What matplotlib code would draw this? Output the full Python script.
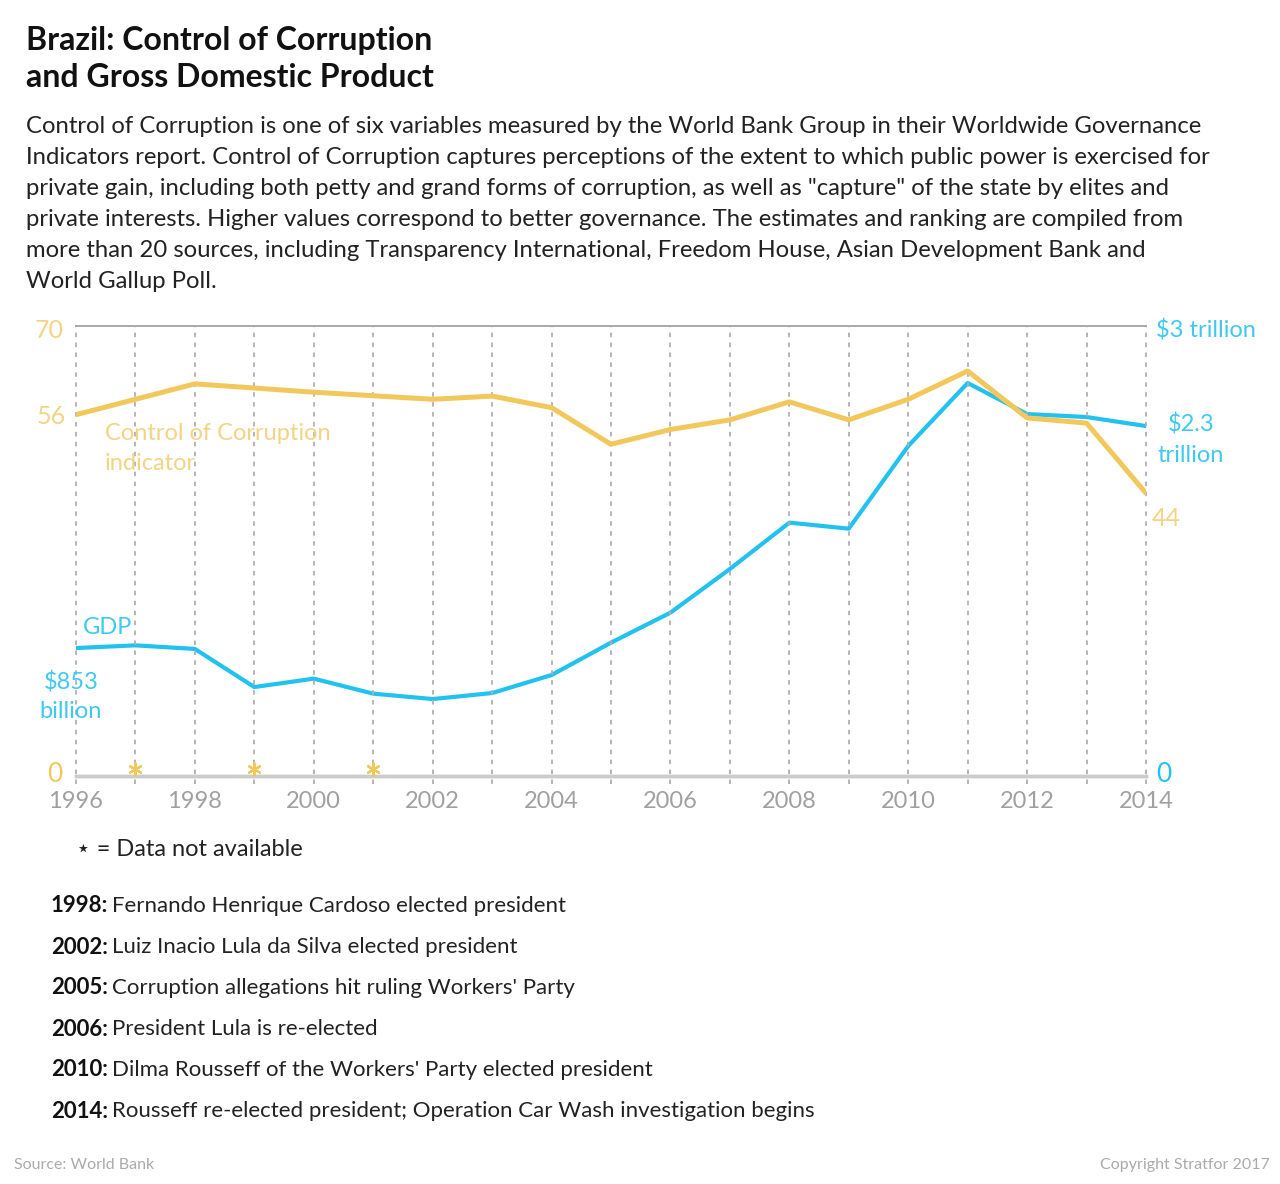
import matplotlib
matplotlib.use("Agg")
import matplotlib.pyplot as plt

# Data ===========================================
# Control of Corruption (percentile rank); 1997, 1999, 2001 not available
cc_years = [1996, 1998, 2000, 2002, 2003, 2004, 2005, 2006, 2007,
            2008, 2009, 2010, 2011, 2012, 2013, 2014]
cc_values = [56.2, 61.0, 59.7, 58.6, 59.1, 57.3, 51.6, 53.9, 55.4,
             58.2, 55.4, 58.6, 63.0, 55.7, 54.9, 44.0]
missing_years = [1997, 1999, 2001]

# GDP, trillions of US dollars
gdp_years = list(range(1996, 2015))
gdp_values = [0.853, 0.871, 0.847, 0.593, 0.649, 0.549, 0.513, 0.553, 0.673,
              0.889, 1.089, 1.380, 1.689, 1.649, 2.200, 2.620, 2.413, 2.393, 2.333]

year_ticks = list(range(1996, 2015, 2))

events = [
    ("1998:", "Fernando Henrique Cardoso elected president"),
    ("2002:", "Luiz Inacio Lula da Silva elected president"),
    ("2005:", "Corruption allegations hit ruling Workers' Party"),
    ("2006:", "President Lula is re-elected"),
    ("2010:", "Dilma Rousseff of the Workers' Party elected president"),
    ("2014:", "Rousseff re-elected president; Operation Car Wash investigation begins"),
]

intro = ("Control of Corruption is one of six variables measured by the World Bank Group in their Worldwide Governance\n"
         "Indicators report. Control of Corruption captures perceptions of the extent to which public power is exercised for\n"
         "private gain, including both petty and grand forms of corruption, as well as \"capture\" of the state by elites and\n"
         "private interests. Higher values correspond to better governance. The estimates and ranking are compiled from\n"
         "more than 20 sources, including Transparency International, Freedom House, Asian Development Bank and\n"
         "World Gallup Poll.")

# Styles =========================================
YELLOW = "#f2c85c"
YELLOW_TXT = "#f4d385"
CYAN = "#22c2ef"
CYAN_TXT = "#3fc9f1"
GRAY = "#a0a0a0"
W, H = 1280, 1184
plt.rcParams['font.family'] = ['Lato', 'DejaVu Sans']

fig = plt.figure(figsize=(W / 100, H / 100), dpi=100)


def px(x, y):
    return x / W, 1 - y / H


# Axes ===========================================
left, right, top, bottom = 76, 1146, 326, 776
ax = fig.add_axes([left / W, 1 - bottom / H, (right - left) / W, (bottom - top) / H])
ax2 = ax.twinx()

ax.set_xlim(1996, 2014)
ax.set_ylim(0, 70)
ax2.set_ylim(0, 3)

for yr in gdp_years:
    ax.axvline(yr, ymin=-0.018, ymax=1, color="#b0b0b0", lw=1.3,
               ls=(0, (2.5, 3)), clip_on=False, zorder=1)

for a in (ax, ax2):
    for s in ("left", "right"):
        a.spines[s].set_visible(False)
    a.spines["top"].set_color("#a8a8a8")
    a.spines["top"].set_linewidth(1.2)
    a.spines["bottom"].set_color("#cccccc")
    a.spines["bottom"].set_linewidth(2.5)
    a.set_yticks([])
    a.tick_params(length=0)

ax.set_xticks(year_ticks)
ax.set_xticklabels([str(y) for y in year_ticks], fontsize=17, color=GRAY)
ax.tick_params(axis="x", pad=11)

ax2.plot(gdp_years, gdp_values, color=CYAN, lw=3, zorder=3, solid_capstyle="round")
ax.plot(cc_years, cc_values, color=YELLOW, lw=3.6, zorder=4, solid_capstyle="round")
ax.set_zorder(ax2.get_zorder() + 1)
ax.patch.set_visible(False)

ax.scatter(missing_years, [0.016] * len(missing_years), marker=(6, 2, 0), s=80,
           color=YELLOW, linewidths=1.6, transform=ax.get_xaxis_transform(),
           clip_on=False, zorder=5)

# Axis annotations ===============================
fig.text(*px(64, 331), "70", color=YELLOW_TXT, fontsize=18,
         ha="right", va="center")
fig.text(*px(66, 416), "56", color=YELLOW_TXT, fontsize=18,
         ha="right", va="center")
fig.text(*px(62, 775), "0", color=YELLOW, fontsize=19, ha="right", va="center")
fig.text(*px(1156, 331), "$3 trillion", color=CYAN_TXT, fontsize=17,
         ha="left", va="center")
fig.text(*px(1191, 424), "$2.3", color=CYAN_TXT, fontsize=17,
         ha="center", va="center")
fig.text(*px(1157, 455), "trillion", color=CYAN_TXT, fontsize=17,
         ha="left", va="center")
fig.text(*px(1152, 519), "44", color=YELLOW_TXT, fontsize=18,
         ha="left", va="center")
fig.text(*px(1156, 775), "0", color=CYAN, fontsize=19, ha="left", va="center")

fig.text(*px(105, 433), "Control of Corruption", color=YELLOW_TXT, fontsize=17,
         va="center")
fig.text(*px(105, 464), "indicator", color=YELLOW_TXT, fontsize=17, va="center")
fig.text(*px(83, 628), "GDP", color=CYAN_TXT, fontsize=17, va="center")
fig.text(*px(71, 682), "$853", color=CYAN_TXT, fontsize=17,
         ha="center", va="center")
fig.text(*px(71, 712), "billion", color=CYAN_TXT, fontsize=17,
         ha="center", va="center")

# Header =========================================
fig.text(*px(26, 59), "Brazil: Control of Corruption\nand Gross Domestic Product",
         fontsize=23, fontweight="bold", color="#111111", va="center",
         linespacing=1.3)
fig.text(*px(26, 204), intro, fontsize=17.2, color="#222222", va="center",
         linespacing=1.58)

# Footnote and events ============================
fig.text(*px(76, 850), "⋆ = Data not available", fontsize=17, color="#222222",
         va="center")

renderer = fig.canvas.get_renderer()
for i, (yr, desc) in enumerate(events):
    y = 906 + i * 41
    t = fig.text(*px(51, y), yr, fontsize=16, fontweight="bold", color="#111111",
                 va="center")
    bb = t.get_window_extent(renderer)
    fig.text(bb.x1 / W + 4 / W, 1 - y / H, desc, fontsize=16, color="#222222",
             va="center")

fig.text(*px(14, 1165), "Source: World Bank", fontsize=11.5, color="#aaaaaa",
         va="center")
fig.text(*px(1270, 1165), "Copyright Stratfor 2017", fontsize=11.5, color="#aaaaaa",
         va="center", ha="right")

fig.savefig("out.png", dpi=100)
